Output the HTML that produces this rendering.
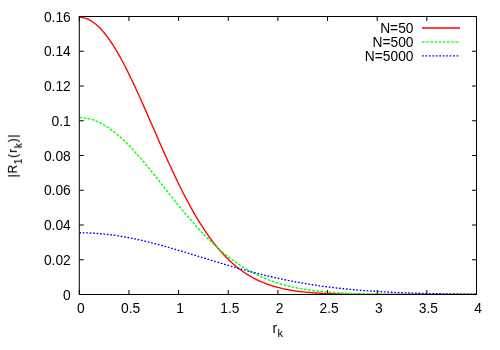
<!DOCTYPE html>
<html><head><meta charset="utf-8"><title>plot</title>
<style>
html,body{margin:0;padding:0;background:#fff;}
body{width:500px;height:350px;overflow:hidden;}
svg{display:block;}
text{font-family:"Liberation Sans",sans-serif;font-size:13.8px;fill:#000;}
.sub{font-size:11px;}
</style></head><body>
<svg width="500" height="350" viewBox="0 0 500 350">
<rect x="0" y="0" width="500" height="350" fill="#fff"/>
<path d="M79.30,294.5 V290.0 M79.30,16.5 V21.0 M128.95,294.5 V290.0 M128.95,16.5 V21.0 M178.60,294.5 V290.0 M178.60,16.5 V21.0 M228.25,294.5 V290.0 M228.25,16.5 V21.0 M277.90,294.5 V290.0 M277.90,16.5 V21.0 M327.55,294.5 V290.0 M327.55,16.5 V21.0 M377.20,294.5 V290.0 M377.20,16.5 V21.0 M426.85,294.5 V290.0 M426.85,16.5 V21.0 M476.50,294.5 V290.0 M476.50,16.5 V21.0 M79.3,294.50 H83.8 M476.5,294.50 H472.0 M79.3,259.75 H83.8 M476.5,259.75 H472.0 M79.3,225.00 H83.8 M476.5,225.00 H472.0 M79.3,190.25 H83.8 M476.5,190.25 H472.0 M79.3,155.50 H83.8 M476.5,155.50 H472.0 M79.3,120.75 H83.8 M476.5,120.75 H472.0 M79.3,86.00 H83.8 M476.5,86.00 H472.0 M79.3,51.25 H83.8 M476.5,51.25 H472.0 M79.3,16.50 H83.8 M476.5,16.50 H472.0" stroke="#000" stroke-width="1" fill="none"/>
<clipPath id="c"><rect x="79.3" y="15.5" width="397.2" height="279.5"/></clipPath>
<g clip-path="url(#c)" fill="none" stroke-linejoin="round">
<path d="M79.30,17.30 L80.29,17.33 L81.29,17.40 L82.28,17.53 L83.27,17.71 L84.27,17.94 L85.26,18.21 L86.25,18.54 L87.24,18.92 L88.24,19.35 L89.23,19.83 L90.22,20.36 L91.22,20.94 L92.21,21.56 L93.20,22.24 L94.19,22.96 L95.19,23.73 L96.18,24.55 L97.17,25.42 L98.17,26.33 L99.16,27.29 L100.15,28.29 L101.15,29.34 L102.14,30.43 L103.13,31.57 L104.12,32.75 L105.12,33.97 L106.11,35.23 L107.10,36.54 L108.10,37.88 L109.09,39.27 L110.08,40.69 L111.08,42.16 L112.07,43.66 L113.06,45.19 L114.05,46.77 L115.05,48.37 L116.04,50.02 L117.03,51.69 L118.03,53.40 L119.02,55.14 L120.01,56.92 L121.01,58.72 L122.00,60.55 L122.99,62.41 L123.98,64.30 L124.98,66.21 L125.97,68.15 L126.96,70.12 L127.96,72.10 L128.95,74.11 L129.94,76.15 L130.94,78.20 L131.93,80.27 L132.92,82.37 L133.91,84.48 L134.91,86.61 L135.90,88.75 L136.89,90.91 L137.89,93.08 L138.88,95.27 L139.87,97.47 L140.87,99.68 L141.86,101.90 L142.85,104.13 L143.84,106.37 L144.84,108.62 L145.83,110.87 L146.82,113.13 L147.82,115.40 L148.81,117.67 L149.80,119.94 L150.80,122.22 L151.79,124.49 L152.78,126.77 L153.77,129.05 L154.77,131.32 L155.76,133.60 L156.75,135.87 L157.75,138.14 L158.74,140.40 L159.73,142.66 L160.73,144.92 L161.72,147.16 L162.71,149.40 L163.70,151.64 L164.70,153.86 L165.69,156.07 L166.68,158.28 L167.68,160.47 L168.67,162.66 L169.66,164.83 L170.66,166.99 L171.65,169.13 L172.64,171.26 L173.63,173.38 L174.63,175.49 L175.62,177.58 L176.61,179.65 L177.61,181.71 L178.60,183.75 L179.59,185.77 L180.59,187.78 L181.58,189.76 L182.57,191.73 L183.56,193.69 L184.56,195.62 L185.55,197.53 L186.54,199.43 L187.54,201.30 L188.53,203.15 L189.52,204.99 L190.52,206.80 L191.51,208.59 L192.50,210.36 L193.50,212.11 L194.49,213.84 L195.48,215.55 L196.47,217.23 L197.47,218.89 L198.46,220.53 L199.45,222.15 L200.45,223.74 L201.44,225.32 L202.43,226.87 L203.43,228.39 L204.42,229.90 L205.41,231.38 L206.40,232.84 L207.40,234.28 L208.39,235.69 L209.38,237.08 L210.38,238.45 L211.37,239.80 L212.36,241.12 L213.36,242.42 L214.35,243.70 L215.34,244.96 L216.33,246.19 L217.33,247.40 L218.32,248.59 L219.31,249.76 L220.31,250.91 L221.30,252.03 L222.29,253.14 L223.28,254.22 L224.28,255.28 L225.27,256.32 L226.26,257.34 L227.26,258.34 L228.25,259.32 L229.24,260.28 L230.24,261.22 L231.23,262.13 L232.22,263.03 L233.21,263.91 L234.21,264.77 L235.20,265.61 L236.19,266.44 L237.19,267.24 L238.18,268.03 L239.17,268.80 L240.17,269.55 L241.16,270.28 L242.15,270.99 L243.14,271.69 L244.14,272.38 L245.13,273.04 L246.12,273.69 L247.12,274.32 L248.11,274.94 L249.10,275.54 L250.10,276.13 L251.09,276.70 L252.08,277.26 L253.07,277.81 L254.07,278.33 L255.06,278.85 L256.05,279.35 L257.05,279.84 L258.04,280.31 L259.03,280.78 L260.03,281.23 L261.02,281.66 L262.01,282.09 L263.00,282.50 L264.00,282.90 L264.99,283.29 L265.98,283.67 L266.98,284.04 L267.97,284.40 L268.96,284.74 L269.96,285.08 L270.95,285.41 L271.94,285.73 L272.94,286.03 L273.93,286.33 L274.92,286.62 L275.91,286.90 L276.91,287.17 L277.90,287.44 L278.89,287.69 L279.89,287.94 L280.88,288.18 L281.87,288.41 L282.86,288.63 L283.86,288.85 L284.85,289.06 L285.84,289.26 L286.84,289.46 L287.83,289.65 L288.82,289.83 L289.82,290.01 L290.81,290.18 L291.80,290.35 L292.79,290.51 L293.79,290.66 L294.78,290.81 L295.77,290.96 L296.77,291.10 L297.76,291.23 L298.75,291.36 L299.75,291.49 L300.74,291.61 L301.73,291.72 L302.72,291.83 L303.72,291.94 L304.71,292.05 L305.70,292.15 L306.70,292.24 L307.69,292.34 L308.68,292.43 L309.68,292.51 L310.67,292.60 L311.66,292.68 L312.65,292.75 L313.65,292.83 L314.64,292.90 L315.63,292.97 L316.63,293.03 L317.62,293.09 L318.61,293.16 L319.61,293.21 L320.60,293.27 L321.59,293.32 L322.58,293.37 L323.58,293.42 L324.57,293.47 L325.56,293.52 L326.56,293.56 L327.55,293.60 L328.54,293.64 L329.54,293.68 L330.53,293.72 L331.52,293.75 L332.51,293.79 L333.51,293.82 L334.50,293.85 L335.49,293.88 L336.49,293.91 L337.48,293.94 L338.47,293.96 L339.47,293.99 L340.46,294.01 L341.45,294.04 L342.44,294.06 L343.44,294.08 L344.43,294.10 L345.42,294.12 L346.42,294.14 L347.41,294.15 L348.40,294.17 L349.40,294.19 L350.39,294.20 L351.38,294.22 L352.38,294.23 L353.37,294.24 L354.36,294.26 L355.35,294.27 L356.35,294.28 L357.34,294.29 L358.33,294.30 L359.33,294.31 L360.32,294.32 L361.31,294.33 L362.31,294.34 L363.30,294.35 L364.29,294.36 L365.28,294.36 L366.28,294.37 L367.27,294.38 L368.26,294.38 L369.26,294.39 L370.25,294.39 L371.24,294.40 L372.24,294.41 L373.23,294.41 L374.22,294.42 L375.21,294.42 L376.21,294.42 L377.20,294.43 L378.19,294.43 L379.19,294.44 L380.18,294.44 L381.17,294.44 L382.16,294.45 L383.16,294.45 L384.15,294.45 L385.14,294.45 L386.14,294.46 L387.13,294.46 L388.12,294.46 L389.12,294.46 L390.11,294.47 L391.10,294.47 L392.09,294.47 L393.09,294.47 L394.08,294.47 L395.07,294.47 L396.07,294.48 L397.06,294.48 L398.05,294.48 L399.05,294.48 L400.04,294.48 L401.03,294.48 L402.02,294.48 L403.02,294.48 L404.01,294.48 L405.00,294.49 L406.00,294.49 L406.99,294.49 L407.98,294.49 L408.98,294.49 L409.97,294.49 L410.96,294.49 L411.95,294.49 L412.95,294.49 L413.94,294.49 L414.93,294.49 L415.93,294.49 L416.92,294.49 L417.91,294.49 L418.91,294.49 L419.90,294.49 L420.89,294.49 L421.88,294.49 L422.88,294.50 L423.87,294.50 L424.86,294.50 L425.86,294.50 L426.85,294.50 L427.84,294.50 L428.84,294.50 L429.83,294.50 L430.82,294.50 L431.81,294.50 L432.81,294.50 L433.80,294.50 L434.79,294.50 L435.79,294.50 L436.78,294.50 L437.77,294.50 L438.77,294.50 L439.76,294.50 L440.75,294.50 L441.75,294.50 L442.74,294.50 L443.73,294.50 L444.72,294.50 L445.72,294.50 L446.71,294.50 L447.70,294.50 L448.70,294.50 L449.69,294.50 L450.68,294.50 L451.68,294.50 L452.67,294.50 L453.66,294.50 L454.65,294.50 L455.65,294.50 L456.64,294.50 L457.63,294.50 L458.63,294.50 L459.62,294.50 L460.61,294.50 L461.61,294.50 L462.60,294.50 L463.59,294.50 L464.58,294.50 L465.58,294.50 L466.57,294.50 L467.56,294.50 L468.56,294.50 L469.55,294.50 L470.54,294.50 L471.54,294.50 L472.53,294.50 L473.52,294.50 L474.51,294.50 L475.51,294.50 L476.50,294.50" stroke="#f00" stroke-width="1.35"/>
<path d="M79.30,117.60 L80.29,117.61 L81.29,117.65 L82.28,117.71 L83.27,117.79 L84.27,117.90 L85.26,118.04 L86.25,118.19 L87.24,118.38 L88.24,118.58 L89.23,118.81 L90.22,119.06 L91.22,119.34 L92.21,119.64 L93.20,119.97 L94.19,120.31 L95.19,120.68 L96.18,121.08 L97.17,121.49 L98.17,121.93 L99.16,122.39 L100.15,122.88 L101.15,123.38 L102.14,123.91 L103.13,124.46 L104.12,125.03 L105.12,125.63 L106.11,126.24 L107.10,126.87 L108.10,127.53 L109.09,128.20 L110.08,128.90 L111.08,129.61 L112.07,130.35 L113.06,131.10 L114.05,131.87 L115.05,132.67 L116.04,133.47 L117.03,134.30 L118.03,135.15 L119.02,136.01 L120.01,136.89 L121.01,137.78 L122.00,138.70 L122.99,139.63 L123.98,140.57 L124.98,141.53 L125.97,142.50 L126.96,143.49 L127.96,144.49 L128.95,145.51 L129.94,146.54 L130.94,147.58 L131.93,148.64 L132.92,149.71 L133.91,150.79 L134.91,151.88 L135.90,152.98 L136.89,154.09 L137.89,155.22 L138.88,156.35 L139.87,157.49 L140.87,158.65 L141.86,159.81 L142.85,160.98 L143.84,162.16 L144.84,163.34 L145.83,164.53 L146.82,165.73 L147.82,166.94 L148.81,168.15 L149.80,169.37 L150.80,170.59 L151.79,171.82 L152.78,173.05 L153.77,174.29 L154.77,175.53 L155.76,176.77 L156.75,178.02 L157.75,179.27 L158.74,180.52 L159.73,181.77 L160.73,183.03 L161.72,184.28 L162.71,185.54 L163.70,186.80 L164.70,188.06 L165.69,189.31 L166.68,190.57 L167.68,191.83 L168.67,193.08 L169.66,194.33 L170.66,195.58 L171.65,196.83 L172.64,198.08 L173.63,199.32 L174.63,200.56 L175.62,201.80 L176.61,203.03 L177.61,204.26 L178.60,205.49 L179.59,206.71 L180.59,207.92 L181.58,209.13 L182.57,210.34 L183.56,211.54 L184.56,212.73 L185.55,213.92 L186.54,215.10 L187.54,216.28 L188.53,217.44 L189.52,218.60 L190.52,219.76 L191.51,220.90 L192.50,222.04 L193.50,223.17 L194.49,224.30 L195.48,225.41 L196.47,226.52 L197.47,227.61 L198.46,228.70 L199.45,229.78 L200.45,230.85 L201.44,231.92 L202.43,232.97 L203.43,234.01 L204.42,235.05 L205.41,236.07 L206.40,237.08 L207.40,238.09 L208.39,239.08 L209.38,240.07 L210.38,241.04 L211.37,242.01 L212.36,242.96 L213.36,243.90 L214.35,244.84 L215.34,245.76 L216.33,246.67 L217.33,247.57 L218.32,248.46 L219.31,249.34 L220.31,250.21 L221.30,251.07 L222.29,251.92 L223.28,252.76 L224.28,253.58 L225.27,254.40 L226.26,255.20 L227.26,255.99 L228.25,256.78 L229.24,257.55 L230.24,258.31 L231.23,259.06 L232.22,259.80 L233.21,260.53 L234.21,261.25 L235.20,261.95 L236.19,262.65 L237.19,263.34 L238.18,264.01 L239.17,264.68 L240.17,265.33 L241.16,265.97 L242.15,266.61 L243.14,267.23 L244.14,267.84 L245.13,268.45 L246.12,269.04 L247.12,269.62 L248.11,270.19 L249.10,270.76 L250.10,271.31 L251.09,271.85 L252.08,272.39 L253.07,272.91 L254.07,273.42 L255.06,273.93 L256.05,274.42 L257.05,274.91 L258.04,275.39 L259.03,275.86 L260.03,276.32 L261.02,276.77 L262.01,277.21 L263.00,277.64 L264.00,278.06 L264.99,278.48 L265.98,278.89 L266.98,279.29 L267.97,279.68 L268.96,280.06 L269.96,280.43 L270.95,280.80 L271.94,281.16 L272.94,281.51 L273.93,281.86 L274.92,282.19 L275.91,282.52 L276.91,282.84 L277.90,283.16 L278.89,283.47 L279.89,283.77 L280.88,284.06 L281.87,284.35 L282.86,284.63 L283.86,284.91 L284.85,285.18 L285.84,285.44 L286.84,285.69 L287.83,285.94 L288.82,286.19 L289.82,286.43 L290.81,286.66 L291.80,286.88 L292.79,287.11 L293.79,287.32 L294.78,287.53 L295.77,287.74 L296.77,287.94 L297.76,288.13 L298.75,288.32 L299.75,288.51 L300.74,288.69 L301.73,288.86 L302.72,289.03 L303.72,289.20 L304.71,289.36 L305.70,289.52 L306.70,289.67 L307.69,289.82 L308.68,289.97 L309.68,290.11 L310.67,290.25 L311.66,290.38 L312.65,290.51 L313.65,290.64 L314.64,290.76 L315.63,290.88 L316.63,291.00 L317.62,291.11 L318.61,291.22 L319.61,291.33 L320.60,291.44 L321.59,291.54 L322.58,291.63 L323.58,291.73 L324.57,291.82 L325.56,291.91 L326.56,292.00 L327.55,292.08 L328.54,292.16 L329.54,292.24 L330.53,292.32 L331.52,292.39 L332.51,292.47 L333.51,292.54 L334.50,292.60 L335.49,292.67 L336.49,292.73 L337.48,292.80 L338.47,292.86 L339.47,292.91 L340.46,292.97 L341.45,293.02 L342.44,293.08 L343.44,293.13 L344.43,293.18 L345.42,293.23 L346.42,293.27 L347.41,293.32 L348.40,293.36 L349.40,293.40 L350.39,293.44 L351.38,293.48 L352.38,293.52 L353.37,293.55 L354.36,293.59 L355.35,293.62 L356.35,293.66 L357.34,293.69 L358.33,293.72 L359.33,293.75 L360.32,293.78 L361.31,293.81 L362.31,293.83 L363.30,293.86 L364.29,293.88 L365.28,293.91 L366.28,293.93 L367.27,293.95 L368.26,293.97 L369.26,293.99 L370.25,294.01 L371.24,294.03 L372.24,294.05 L373.23,294.07 L374.22,294.09 L375.21,294.10 L376.21,294.12 L377.20,294.13 L378.19,294.15 L379.19,294.16 L380.18,294.18 L381.17,294.19 L382.16,294.20 L383.16,294.22 L384.15,294.23 L385.14,294.24 L386.14,294.25 L387.13,294.26 L388.12,294.27 L389.12,294.28 L390.11,294.29 L391.10,294.30 L392.09,294.31 L393.09,294.31 L394.08,294.32 L395.07,294.33 L396.07,294.34 L397.06,294.34 L398.05,294.35 L399.05,294.36 L400.04,294.36 L401.03,294.37 L402.02,294.37 L403.02,294.38 L404.01,294.39 L405.00,294.39 L406.00,294.40 L406.99,294.40 L407.98,294.40 L408.98,294.41 L409.97,294.41 L410.96,294.42 L411.95,294.42 L412.95,294.42 L413.94,294.43 L414.93,294.43 L415.93,294.43 L416.92,294.44 L417.91,294.44 L418.91,294.44 L419.90,294.45 L420.89,294.45 L421.88,294.45 L422.88,294.45 L423.87,294.45 L424.86,294.46 L425.86,294.46 L426.85,294.46 L427.84,294.46 L428.84,294.46 L429.83,294.47 L430.82,294.47 L431.81,294.47 L432.81,294.47 L433.80,294.47 L434.79,294.47 L435.79,294.47 L436.78,294.48 L437.77,294.48 L438.77,294.48 L439.76,294.48 L440.75,294.48 L441.75,294.48 L442.74,294.48 L443.73,294.48 L444.72,294.48 L445.72,294.48 L446.71,294.49 L447.70,294.49 L448.70,294.49 L449.69,294.49 L450.68,294.49 L451.68,294.49 L452.67,294.49 L453.66,294.49 L454.65,294.49 L455.65,294.49 L456.64,294.49 L457.63,294.49 L458.63,294.49 L459.62,294.49 L460.61,294.49 L461.61,294.49 L462.60,294.49 L463.59,294.49 L464.58,294.49 L465.58,294.49 L466.57,294.49 L467.56,294.50 L468.56,294.50 L469.55,294.50 L470.54,294.50 L471.54,294.50 L472.53,294.50 L473.52,294.50 L474.51,294.50 L475.51,294.50 L476.50,294.50" stroke="#0f0" stroke-width="1.35" stroke-dasharray="2.7 1.46"/>
<path d="M79.30,232.77 L80.29,232.77 L81.29,232.78 L82.28,232.79 L83.27,232.80 L84.27,232.82 L85.26,232.84 L86.25,232.87 L87.24,232.90 L88.24,232.94 L89.23,232.98 L90.22,233.02 L91.22,233.07 L92.21,233.12 L93.20,233.17 L94.19,233.23 L95.19,233.30 L96.18,233.36 L97.17,233.44 L98.17,233.51 L99.16,233.59 L100.15,233.67 L101.15,233.76 L102.14,233.85 L103.13,233.95 L104.12,234.05 L105.12,234.15 L106.11,234.26 L107.10,234.37 L108.10,234.48 L109.09,234.60 L110.08,234.72 L111.08,234.85 L112.07,234.98 L113.06,235.11 L114.05,235.25 L115.05,235.39 L116.04,235.53 L117.03,235.68 L118.03,235.83 L119.02,235.99 L120.01,236.15 L121.01,236.31 L122.00,236.47 L122.99,236.64 L123.98,236.81 L124.98,236.99 L125.97,237.17 L126.96,237.35 L127.96,237.53 L128.95,237.72 L129.94,237.91 L130.94,238.11 L131.93,238.31 L132.92,238.51 L133.91,238.71 L134.91,238.92 L135.90,239.13 L136.89,239.34 L137.89,239.56 L138.88,239.77 L139.87,240.00 L140.87,240.22 L141.86,240.45 L142.85,240.68 L143.84,240.91 L144.84,241.14 L145.83,241.38 L146.82,241.62 L147.82,241.86 L148.81,242.10 L149.80,242.35 L150.80,242.60 L151.79,242.85 L152.78,243.10 L153.77,243.36 L154.77,243.62 L155.76,243.88 L156.75,244.14 L157.75,244.40 L158.74,244.67 L159.73,244.94 L160.73,245.21 L161.72,245.48 L162.71,245.75 L163.70,246.02 L164.70,246.30 L165.69,246.58 L166.68,246.86 L167.68,247.14 L168.67,247.42 L169.66,247.71 L170.66,247.99 L171.65,248.28 L172.64,248.57 L173.63,248.86 L174.63,249.15 L175.62,249.44 L176.61,249.73 L177.61,250.03 L178.60,250.32 L179.59,250.62 L180.59,250.92 L181.58,251.21 L182.57,251.51 L183.56,251.81 L184.56,252.11 L185.55,252.41 L186.54,252.71 L187.54,253.02 L188.53,253.32 L189.52,253.62 L190.52,253.93 L191.51,254.23 L192.50,254.54 L193.50,254.84 L194.49,255.15 L195.48,255.45 L196.47,255.76 L197.47,256.06 L198.46,256.37 L199.45,256.68 L200.45,256.98 L201.44,257.29 L202.43,257.59 L203.43,257.90 L204.42,258.21 L205.41,258.51 L206.40,258.82 L207.40,259.12 L208.39,259.43 L209.38,259.73 L210.38,260.04 L211.37,260.34 L212.36,260.65 L213.36,260.95 L214.35,261.25 L215.34,261.56 L216.33,261.86 L217.33,262.16 L218.32,262.46 L219.31,262.76 L220.31,263.06 L221.30,263.36 L222.29,263.65 L223.28,263.95 L224.28,264.25 L225.27,264.54 L226.26,264.84 L227.26,265.13 L228.25,265.42 L229.24,265.71 L230.24,266.00 L231.23,266.29 L232.22,266.58 L233.21,266.87 L234.21,267.15 L235.20,267.44 L236.19,267.72 L237.19,268.00 L238.18,268.29 L239.17,268.57 L240.17,268.84 L241.16,269.12 L242.15,269.40 L243.14,269.67 L244.14,269.95 L245.13,270.22 L246.12,270.49 L247.12,270.76 L248.11,271.03 L249.10,271.29 L250.10,271.56 L251.09,271.82 L252.08,272.08 L253.07,272.34 L254.07,272.60 L255.06,272.86 L256.05,273.11 L257.05,273.37 L258.04,273.62 L259.03,273.87 L260.03,274.12 L261.02,274.37 L262.01,274.61 L263.00,274.86 L264.00,275.10 L264.99,275.34 L265.98,275.58 L266.98,275.82 L267.97,276.05 L268.96,276.28 L269.96,276.52 L270.95,276.75 L271.94,276.98 L272.94,277.20 L273.93,277.43 L274.92,277.65 L275.91,277.87 L276.91,278.09 L277.90,278.31 L278.89,278.52 L279.89,278.74 L280.88,278.95 L281.87,279.16 L282.86,279.37 L283.86,279.58 L284.85,279.78 L285.84,279.98 L286.84,280.18 L287.83,280.38 L288.82,280.58 L289.82,280.78 L290.81,280.97 L291.80,281.16 L292.79,281.35 L293.79,281.54 L294.78,281.73 L295.77,281.91 L296.77,282.09 L297.76,282.27 L298.75,282.45 L299.75,282.63 L300.74,282.81 L301.73,282.98 L302.72,283.15 L303.72,283.32 L304.71,283.49 L305.70,283.66 L306.70,283.82 L307.69,283.98 L308.68,284.14 L309.68,284.30 L310.67,284.46 L311.66,284.62 L312.65,284.77 L313.65,284.92 L314.64,285.07 L315.63,285.22 L316.63,285.37 L317.62,285.51 L318.61,285.66 L319.61,285.80 L320.60,285.94 L321.59,286.08 L322.58,286.21 L323.58,286.35 L324.57,286.48 L325.56,286.61 L326.56,286.74 L327.55,286.87 L328.54,287.00 L329.54,287.12 L330.53,287.25 L331.52,287.37 L332.51,287.49 L333.51,287.61 L334.50,287.73 L335.49,287.84 L336.49,287.96 L337.48,288.07 L338.47,288.18 L339.47,288.29 L340.46,288.40 L341.45,288.50 L342.44,288.61 L343.44,288.71 L344.43,288.82 L345.42,288.92 L346.42,289.02 L347.41,289.11 L348.40,289.21 L349.40,289.31 L350.39,289.40 L351.38,289.49 L352.38,289.58 L353.37,289.67 L354.36,289.76 L355.35,289.85 L356.35,289.93 L357.34,290.02 L358.33,290.10 L359.33,290.18 L360.32,290.27 L361.31,290.34 L362.31,290.42 L363.30,290.50 L364.29,290.58 L365.28,290.65 L366.28,290.72 L367.27,290.80 L368.26,290.87 L369.26,290.94 L370.25,291.01 L371.24,291.08 L372.24,291.14 L373.23,291.21 L374.22,291.27 L375.21,291.34 L376.21,291.40 L377.20,291.46 L378.19,291.52 L379.19,291.58 L380.18,291.64 L381.17,291.70 L382.16,291.75 L383.16,291.81 L384.15,291.86 L385.14,291.92 L386.14,291.97 L387.13,292.02 L388.12,292.07 L389.12,292.12 L390.11,292.17 L391.10,292.22 L392.09,292.27 L393.09,292.31 L394.08,292.36 L395.07,292.40 L396.07,292.45 L397.06,292.49 L398.05,292.54 L399.05,292.58 L400.04,292.62 L401.03,292.66 L402.02,292.70 L403.02,292.74 L404.01,292.77 L405.00,292.81 L406.00,292.85 L406.99,292.88 L407.98,292.92 L408.98,292.95 L409.97,292.99 L410.96,293.02 L411.95,293.05 L412.95,293.09 L413.94,293.12 L414.93,293.15 L415.93,293.18 L416.92,293.21 L417.91,293.24 L418.91,293.27 L419.90,293.29 L420.89,293.32 L421.88,293.35 L422.88,293.38 L423.87,293.40 L424.86,293.43 L425.86,293.45 L426.85,293.48 L427.84,293.50 L428.84,293.52 L429.83,293.55 L430.82,293.57 L431.81,293.59 L432.81,293.61 L433.80,293.63 L434.79,293.65 L435.79,293.67 L436.78,293.69 L437.77,293.71 L438.77,293.73 L439.76,293.75 L440.75,293.77 L441.75,293.78 L442.74,293.80 L443.73,293.82 L444.72,293.84 L445.72,293.85 L446.71,293.87 L447.70,293.88 L448.70,293.90 L449.69,293.91 L450.68,293.93 L451.68,293.94 L452.67,293.96 L453.66,293.97 L454.65,293.98 L455.65,293.99 L456.64,294.01 L457.63,294.02 L458.63,294.03 L459.62,294.04 L460.61,294.06 L461.61,294.07 L462.60,294.08 L463.59,294.09 L464.58,294.10 L465.58,294.11 L466.57,294.12 L467.56,294.13 L468.56,294.14 L469.55,294.15 L470.54,294.16 L471.54,294.17 L472.53,294.17 L473.52,294.18 L474.51,294.19 L475.51,294.20 L476.50,294.21" stroke="#00f" stroke-width="1.35" stroke-dasharray="1.7 1.76"/>
</g>
<rect x="79.3" y="16.5" width="397.2" height="278.0" fill="none" stroke="#000" stroke-width="1"/>
<g style="will-change:transform">
<text x="70.8" y="299.70" text-anchor="end">0</text>
<text x="70.8" y="264.95" text-anchor="end">0.02</text>
<text x="70.8" y="230.20" text-anchor="end">0.04</text>
<text x="70.8" y="195.45" text-anchor="end">0.06</text>
<text x="70.8" y="160.70" text-anchor="end">0.08</text>
<text x="70.8" y="125.95" text-anchor="end">0.1</text>
<text x="70.8" y="91.20" text-anchor="end">0.12</text>
<text x="70.8" y="56.45" text-anchor="end">0.14</text>
<text x="70.8" y="21.70" text-anchor="end">0.16</text>
<text x="80.90" y="313" text-anchor="middle">0</text>
<text x="130.55" y="313" text-anchor="middle">0.5</text>
<text x="180.20" y="313" text-anchor="middle">1</text>
<text x="229.85" y="313" text-anchor="middle">1.5</text>
<text x="279.50" y="313" text-anchor="middle">2</text>
<text x="329.15" y="313" text-anchor="middle">2.5</text>
<text x="378.80" y="313" text-anchor="middle">3</text>
<text x="428.45" y="313" text-anchor="middle">3.5</text>
<text x="478.10" y="313" text-anchor="middle">4</text>
<text x="413.5" y="32.60" text-anchor="end">N=50</text>
<path d="M422,28.0 H460" stroke="#f00" stroke-width="1.35" fill="none"/>
<text x="413.5" y="46.60" text-anchor="end">N=500</text>
<path d="M422,41.85 H460" stroke="#0f0" stroke-width="1.35" fill="none" stroke-dasharray="2.7 1.46"/>
<text x="413.5" y="60.60" text-anchor="end">N=5000</text>
<path d="M422,55.85 H460" stroke="#00f" stroke-width="1.35" fill="none" stroke-dasharray="1.7 1.76"/>
<text x="272.5" y="332.5">r<tspan class="sub" dx="0.4" dy="4.4">k</tspan></text>
<text transform="translate(16.9,155.5) rotate(-90) scale(0.87,1)" x="0" y="0" text-anchor="middle" style="font-size:13.5px;letter-spacing:1.05px;stroke:#000;stroke-width:0.2px">|R<tspan class="sub" dy="4.6">1</tspan><tspan dy="-4.6">(r</tspan><tspan class="sub" dy="4.6">k</tspan><tspan dy="-4.6">)|</tspan></text>
</g>
</svg></body></html>
